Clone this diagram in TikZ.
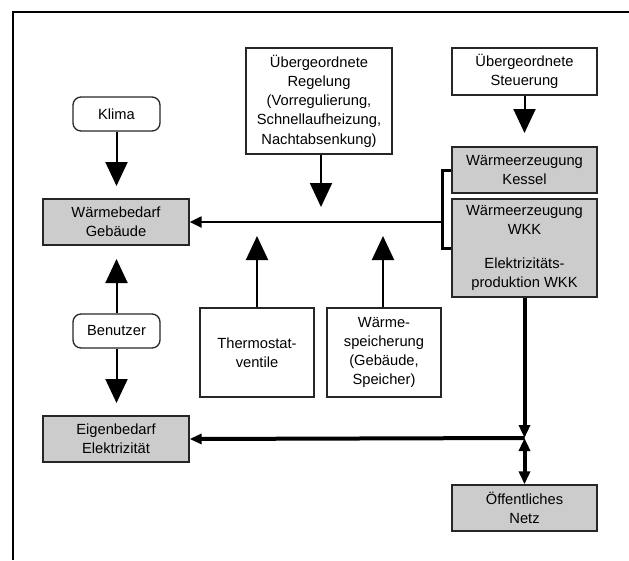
\documentclass[tikz,border=0pt]{standalone}
\usepackage{fontspec}
\setmainfont{Liberation Sans}
\usetikzlibrary{arrows.meta}
\begin{document}
\begin{tikzpicture}[x=1pt,y=-1pt,
  font=\fontsize{14.7}{19.2}\selectfont,
  box/.style={draw=black!85,line width=1.3pt,inner sep=0pt,align=center},
  gbox/.style={box,fill=black!20},
  rbox/.style={box,rounded corners=8pt},
  bigarrow/.style={line width=2pt,-{Triangle[length=24pt,width=22pt]}},
  heat/.style={line width=2.2pt},
  elec/.style={line width=4pt},
  smalltip/.style={-{Triangle[length=12pt,width=11pt]}},
  etip/.tip={Triangle[length=13pt,width=11pt]},
]
\useasboundingbox (0,0) rectangle (629,560);
% frame (top and left edges only)
\draw[line width=2pt] (629,12) -- (12.5,12) -- (12.5,560);

% nodes
\node[box,minimum width=146pt,minimum height=106pt] (reg) at (319,101)
  {Übergeordnete\\Regelung\\(Vorregulierung,\\Schnellaufheizung,\\Nachtabsenkung)};
\node[box,minimum width=145pt,minimum height=47pt] (steu) at (524.5,71.5)
  {Übergeordnete\\Steuerung};
\node[rbox,minimum width=87pt,minimum height=34pt] (klima) at (116.5,114) {Klima};
\node[gbox,minimum width=146pt,minimum height=46pt] (wbed) at (116,222)
  {Wärmebedarf\\Gebäude};
\node[gbox,minimum width=145pt,minimum height=46pt] (kessel) at (524.5,170)
  {Wärmeerzeugung\\Kessel};
\node[gbox,minimum width=145pt,minimum height=98pt] (wkk) at (524.5,248)
  {Wärmeerzeugung\\WKK\\[14pt]Elektrizitäts-\\produktion WKK};
\node[box,minimum width=114pt,minimum height=89pt] (thermo) at (257,352.5)
  {Thermostat-\\ventile};
\node[box,minimum width=114pt,minimum height=89pt] (wsp) at (384,352.5)
  {Wärme-\\speicherung\\(Gebäude,\\Speicher)};
\node[rbox,minimum width=87pt,minimum height=34pt] (benutzer) at (116.5,331) {Benutzer};
\node[gbox,minimum width=146pt,minimum height=46pt] (eigen) at (116,439)
  {Eigenbedarf\\Elektrizität};
\node[gbox,minimum width=145pt,minimum height=46pt] (netz) at (524.5,508)
  {Öffentliches\\Netz};

% free arrow ends
\coordinate (kt) at (116.5,186);
\coordinate (bu) at (116.5,259);
\coordinate (bd) at (116.5,403);
\coordinate (rt) at (321,207);
\coordinate (st) at (524.5,133);
\coordinate (tt) at (257,236);
\coordinate (wt) at (383,236);
\coordinate (hj) at (442,222);
\coordinate (ej) at (524.5,438);

% heat side
\draw[bigarrow] (klima.south) -- (kt);
\draw[bigarrow] (benutzer.north) -- (bu);
\draw[bigarrow] (benutzer.south) -- (bd);
\draw[bigarrow] (reg.south -| rt) -- (rt);
\draw[bigarrow] (steu.south) -- (st);
\draw[bigarrow] (thermo.north) -- (tt);
\draw[bigarrow] (wsp.north -| wt) -- (wt);
\draw[heat,smalltip] (hj) -- (wbed.east);
\draw[line width=3pt] (kessel.west) -- (kessel.west -| hj) |- (wkk.west);

% electricity side
\draw[elec,-etip] (wkk.south) -- (ej);
\draw[elec,-{Triangle[length=12pt,width=10pt]}] (ej) -- (eigen.east);
\draw[elec,etip-etip] (ej) -- (netz.north);
\end{tikzpicture}
\end{document}
